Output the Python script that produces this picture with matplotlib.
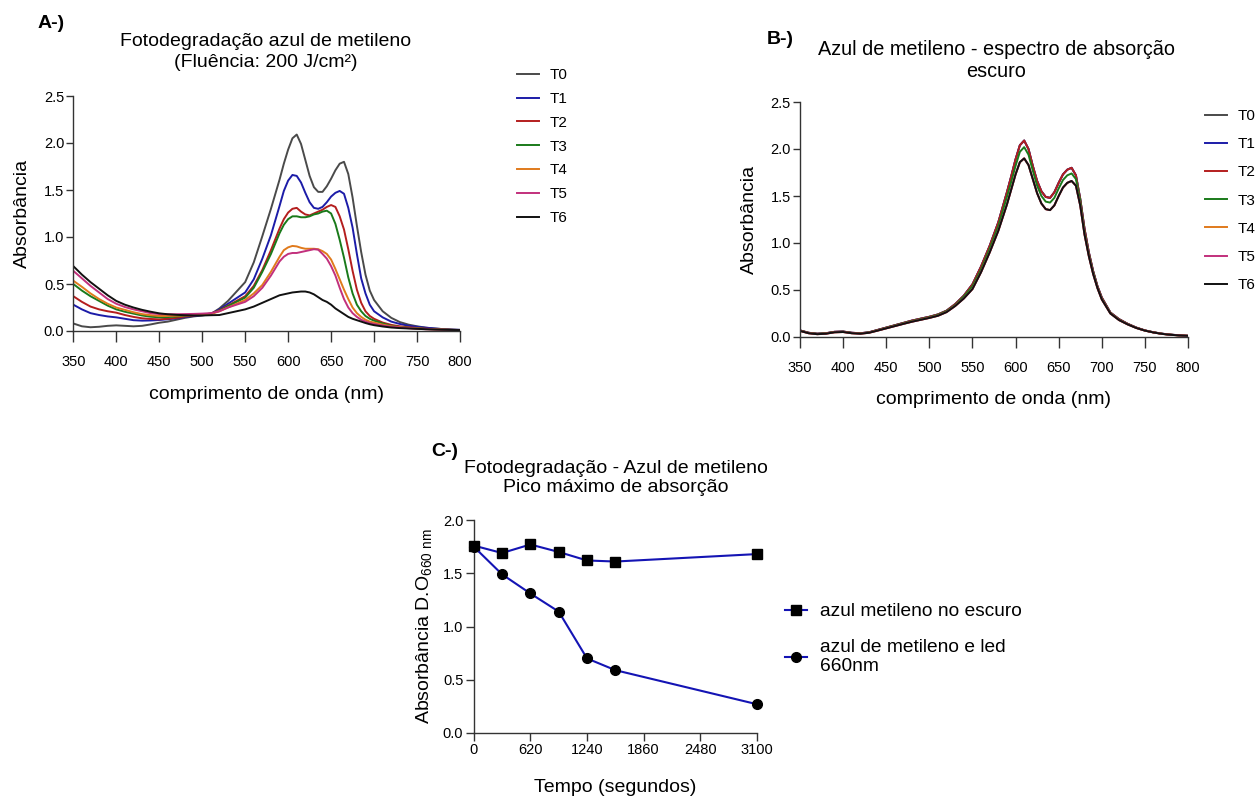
import matplotlib
matplotlib.use('Agg')
import matplotlib.pyplot as plt

plt.rcParams['font.family'] = 'Liberation Sans'
plt.rcParams['mathtext.fontset'] = 'custom'
plt.rcParams['mathtext.rm'] = 'Liberation Sans'

# wavelength grid (nm) shared by panels A and B
wl = [350, 360, 370, 380, 390, 400, 410, 420, 430, 440, 450, 460, 470, 480, 490,
      500, 510, 520, 530, 540, 550, 560, 570, 580, 590, 595, 600, 605, 610, 615,
      620, 625, 630, 635, 640, 645, 650, 655, 660, 665, 670, 675, 680, 685, 690,
      695, 700, 710, 720, 730, 740, 750, 760, 770, 780, 790, 800]

# panel A - photodegradation spectra
a_t0 = [0.08, 0.05, 0.04, 0.045, 0.055, 0.06, 0.055, 0.05, 0.055, 0.07, 0.088, 0.10, 0.12, 0.14, 0.155,
        0.165, 0.18, 0.24, 0.32, 0.42, 0.52, 0.73, 1.01, 1.30, 1.61, 1.78, 1.93, 2.05, 2.09, 1.99,
        1.82, 1.65, 1.53, 1.48, 1.48, 1.54, 1.62, 1.71, 1.78, 1.80, 1.67, 1.42, 1.12, 0.84, 0.60,
        0.43, 0.33, 0.21, 0.14, 0.095, 0.068, 0.05, 0.036, 0.027, 0.02, 0.015, 0.012]
a_t1 = [0.28, 0.23, 0.19, 0.17, 0.155, 0.145, 0.13, 0.115, 0.11, 0.112, 0.117, 0.125, 0.135, 0.15, 0.16,
        0.17, 0.18, 0.23, 0.29, 0.35, 0.41, 0.55, 0.77, 1.02, 1.33, 1.49, 1.60, 1.66, 1.65, 1.58,
        1.47, 1.37, 1.31, 1.30, 1.32, 1.37, 1.43, 1.47, 1.49, 1.46, 1.31, 1.10, 0.82, 0.56, 0.40,
        0.28, 0.21, 0.145, 0.10, 0.075, 0.056, 0.045, 0.035, 0.027, 0.02, 0.015, 0.012]
a_t2 = [0.37, 0.31, 0.26, 0.23, 0.21, 0.195, 0.17, 0.15, 0.135, 0.128, 0.124, 0.13, 0.14, 0.155, 0.165,
        0.175, 0.185, 0.22, 0.27, 0.32, 0.37, 0.48, 0.65, 0.86, 1.09, 1.19, 1.26, 1.30, 1.31, 1.27,
        1.24, 1.23, 1.25, 1.27, 1.29, 1.32, 1.34, 1.32, 1.22, 1.08, 0.87, 0.64, 0.44, 0.30, 0.21,
        0.16, 0.13, 0.09, 0.065, 0.05, 0.04, 0.032, 0.025, 0.02, 0.016, 0.013, 0.01]
a_t3 = [0.50, 0.43, 0.37, 0.32, 0.27, 0.23, 0.205, 0.185, 0.165, 0.152, 0.146, 0.148, 0.155, 0.165, 0.17,
        0.175, 0.185, 0.215, 0.265, 0.31, 0.355, 0.46, 0.63, 0.82, 1.04, 1.13, 1.19, 1.22, 1.22, 1.21,
        1.21, 1.22, 1.24, 1.25, 1.27, 1.28, 1.25, 1.14, 0.97, 0.78, 0.57, 0.40, 0.28, 0.21, 0.16,
        0.13, 0.11, 0.08, 0.055, 0.042, 0.034, 0.028, 0.022, 0.018, 0.015, 0.012, 0.01]
a_t4 = [0.535, 0.47, 0.40, 0.34, 0.29, 0.25, 0.225, 0.20, 0.18, 0.168, 0.16, 0.16, 0.163, 0.167, 0.17,
        0.175, 0.18, 0.21, 0.25, 0.29, 0.33, 0.40, 0.49, 0.63, 0.79, 0.86, 0.89, 0.905, 0.90, 0.885,
        0.875, 0.875, 0.875, 0.87, 0.85, 0.82, 0.76, 0.66, 0.55, 0.44, 0.34, 0.25, 0.19, 0.15, 0.12,
        0.10, 0.09, 0.068, 0.05, 0.04, 0.032, 0.026, 0.02, 0.017, 0.014, 0.011, 0.01]
a_t5 = [0.64, 0.56, 0.48, 0.41, 0.34, 0.29, 0.255, 0.23, 0.21, 0.19, 0.18, 0.178, 0.178, 0.18, 0.182,
        0.185, 0.19, 0.21, 0.25, 0.28, 0.31, 0.37, 0.46, 0.59, 0.74, 0.79, 0.82, 0.83, 0.83, 0.84,
        0.85, 0.86, 0.87, 0.865, 0.82, 0.77, 0.69, 0.59, 0.46, 0.34, 0.25, 0.19, 0.15, 0.12, 0.10,
        0.085, 0.075, 0.058, 0.045, 0.037, 0.03, 0.024, 0.019, 0.016, 0.013, 0.011, 0.01]
a_t6 = [0.69, 0.60, 0.52, 0.45, 0.38, 0.32, 0.28, 0.25, 0.225, 0.205, 0.188, 0.178, 0.172, 0.168, 0.165,
        0.165, 0.168, 0.17, 0.19, 0.21, 0.23, 0.26, 0.30, 0.34, 0.38, 0.39, 0.40, 0.41, 0.415, 0.42,
        0.42, 0.41, 0.39, 0.36, 0.33, 0.31, 0.28, 0.24, 0.21, 0.18, 0.15, 0.13, 0.115, 0.10, 0.085,
        0.072, 0.062, 0.048, 0.037, 0.031, 0.027, 0.023, 0.019, 0.016, 0.013, 0.011, 0.01]

# panel B - dark control (T0-T2 overlap, T4-T6 overlap)
b_hi = [0.07, 0.045, 0.035, 0.04, 0.055, 0.058, 0.045, 0.04, 0.05, 0.075, 0.10, 0.125, 0.15, 0.175, 0.195,
        0.215, 0.24, 0.28, 0.35, 0.44, 0.56, 0.75, 0.97, 1.22, 1.54, 1.71, 1.89, 2.04, 2.09, 2.00,
        1.82, 1.66, 1.55, 1.49, 1.48, 1.54, 1.64, 1.73, 1.78, 1.80, 1.72, 1.47, 1.15, 0.90, 0.70,
        0.54, 0.42, 0.26, 0.19, 0.14, 0.10, 0.07, 0.05, 0.035, 0.025, 0.018, 0.013]
b_mid = [0.068, 0.043, 0.033, 0.038, 0.053, 0.056, 0.043, 0.038, 0.048, 0.072, 0.097, 0.122, 0.146, 0.17, 0.19,
         0.21, 0.235, 0.275, 0.34, 0.43, 0.54, 0.72, 0.94, 1.18, 1.49, 1.65, 1.82, 1.97, 2.02, 1.94,
         1.77, 1.61, 1.50, 1.44, 1.43, 1.48, 1.58, 1.67, 1.72, 1.74, 1.68, 1.45, 1.12, 0.88, 0.69,
         0.53, 0.41, 0.255, 0.185, 0.137, 0.098, 0.069, 0.049, 0.034, 0.024, 0.017, 0.012]
b_lo = [0.065, 0.04, 0.03, 0.035, 0.05, 0.053, 0.04, 0.035, 0.045, 0.068, 0.092, 0.116, 0.14, 0.163, 0.183,
        0.203, 0.226, 0.265, 0.33, 0.41, 0.51, 0.69, 0.90, 1.13, 1.41, 1.57, 1.73, 1.86, 1.90, 1.83,
        1.68, 1.53, 1.42, 1.36, 1.35, 1.40, 1.50, 1.59, 1.64, 1.66, 1.61, 1.40, 1.09, 0.86, 0.67,
        0.52, 0.40, 0.25, 0.18, 0.134, 0.096, 0.068, 0.048, 0.033, 0.023, 0.017, 0.012]

labels = ['T0', 'T1', 'T2', 'T3', 'T4', 'T5', 'T6']
colors = ['#4a4a4a', '#1c1ca8', '#b41e1e', '#1a7a1a', '#e07a1c', '#c2307c', '#111111']

# panel C - peak absorbance at 660 nm over time
tempo = [0, 310, 620, 930, 1240, 1550, 3100]
escuro = [1.76, 1.69, 1.77, 1.70, 1.62, 1.61, 1.68]
led = [1.75, 1.49, 1.31, 1.14, 0.70, 0.59, 0.27]

W, H = 1257, 798
fig = plt.figure(figsize=(W / 100, H / 100), dpi=100)


def box(x0, y0, x1, y1):
    return [x0 / W, 1 - y1 / H, (x1 - x0) / W, (y1 - y0) / H]


def style(ax):
    for s in ['top', 'right']:
        ax.spines[s].set_visible(False)
    for s in ['left', 'bottom']:
        ax.spines[s].set_color('#333333')
        ax.spines[s].set_linewidth(1.0)


def spectrum(ax, series):
    for lab, col, y in zip(labels, colors, series):
        ax.plot(wl, y, color=col, lw=1.4, label=lab)
    ax.set_xlim(350, 800)
    ax.set_ylim(0, 2.5)
    ax.set_xticks(range(350, 801, 50))
    ax.set_yticks([0, 0.5, 1.0, 1.5, 2.0, 2.5])
    ax.set_yticklabels(['0.0', '0.5', '1.0', '1.5', '2.0', '2.5'])
    ax.tick_params(axis='x', length=8, width=1, pad=9, labelsize=10.5, color='#333333')
    ax.tick_params(axis='y', length=5, width=1, pad=1.5, labelsize=10.5, color='#333333')
    ax.set_xlabel('comprimento de onda (nm)', fontsize=14)
    ax.set_ylabel('Absorbância', fontsize=14)
    style(ax)


# A
axA = fig.add_axes(box(73.3, 96, 460, 331))
spectrum(axA, [a_t0, a_t1, a_t2, a_t3, a_t4, a_t5, a_t6])
axA.xaxis.set_label_coords(0.5, -0.236)
axA.yaxis.set_label_coords(-0.11, 0.5)
axA.legend(frameon=False, loc='upper left', bbox_to_anchor=(517 / W, 1 - 68 / H),
           bbox_transform=fig.transFigure, borderpad=0, borderaxespad=0,
           fontsize=11, handlelength=1.45, handletextpad=0.7, labelspacing=0.645)
fig.text(51 / W, 1 - 23 / H, 'A-)', fontsize=14, fontweight='bold', ha='center', va='center')
fig.text(266 / W, 1 - 52 / H, 'Fotodegradação azul de metileno\n(Fluência: 200 J/cm²)',
         fontsize=14, ha='center', va='center', linespacing=1.25)

# B
axB = fig.add_axes(box(800, 102, 1188, 337))
spectrum(axB, [b_hi, b_hi, b_hi, b_mid, b_lo, b_lo, b_lo])
axB.xaxis.set_label_coords(0.5, -0.231)
axB.yaxis.set_label_coords(-0.109, 0.5)
axB.legend(frameon=False, loc='upper left', bbox_to_anchor=(1205 / W, 1 - 109 / H),
           bbox_transform=fig.transFigure, borderpad=0, borderaxespad=0,
           fontsize=11, handlelength=1.45, handletextpad=0.7, labelspacing=0.93)
fig.text(780 / W, 1 - 40 / H, 'B-)', fontsize=14, fontweight='bold', ha='center', va='center')
fig.text(996 / W, 1 - 60.5 / H, 'Azul de metileno - espectro de absorção\nescuro',
         fontsize=14.3, ha='center', va='center', linespacing=1.15)

# C
axC = fig.add_axes(box(473.7, 520, 757, 733))
axC.plot(tempo, escuro, color='#1414b4', lw=1.5, marker='s', ms=7, mfc='black', mec='black',
         label='azul metileno no escuro', clip_on=False, zorder=3)
axC.plot(tempo, led, color='#1414b4', lw=1.5, marker='o', ms=7, mfc='black', mec='black',
         label='azul de metileno e led\n660nm', clip_on=False, zorder=3)
axC.set_xlim(0, 3100)
axC.set_ylim(0, 2.0)
axC.set_xticks([0, 620, 1240, 1860, 2480, 3100])
axC.set_yticks([0, 0.5, 1.0, 1.5, 2.0])
axC.set_yticklabels(['0.0', '0.5', '1.0', '1.5', '2.0'])
axC.tick_params(axis='both', length=6, width=1, pad=1.5, labelsize=10.5, color='#333333')
axC.set_xlabel('Tempo (segundos)', fontsize=14)
axC.set_ylabel(r'Absorbância D.O$_{\mathrm{660\ nm}}$', fontsize=14)
axC.xaxis.set_label_coords(0.5, -0.215)
axC.yaxis.set_label_coords(-0.135, 0.5)
style(axC)
axC.legend(frameon=False, loc='upper left', bbox_to_anchor=(785 / W, 1 - 603 / H),
           bbox_transform=fig.transFigure, borderpad=0, borderaxespad=0,
           fontsize=13.8, handlelength=1.15, handletextpad=0.7, labelspacing=0.95)
fig.text(445 / W, 1 - 451 / H, 'C-)', fontsize=14, fontweight='bold', ha='center', va='center')
fig.text(616 / W, 1 - 478 / H, 'Fotodegradação - Azul de metileno\nPico máximo de absorção',
         fontsize=14, ha='center', va='center', linespacing=1.2)

fig.savefig('out.png', dpi=100)
